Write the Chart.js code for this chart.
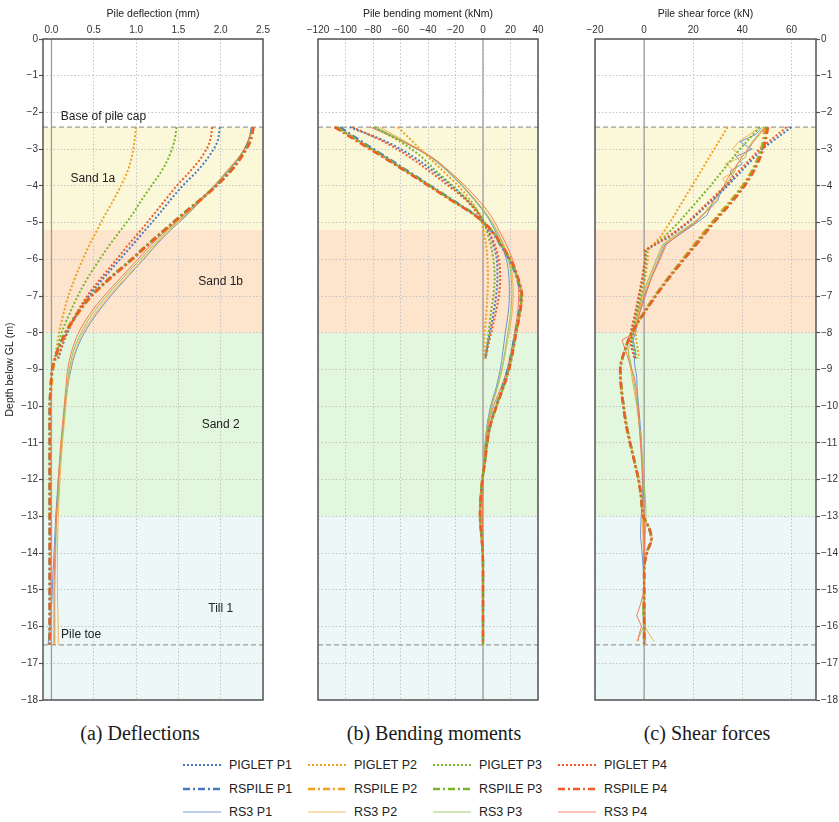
<!DOCTYPE html>
<html>
<head>
<meta charset="utf-8">
<script src="https://cdn.jsdelivr.net/npm/chart.js@4.4.0/dist/chart.umd.min.js"></script>
<style>
    body { margin: 0; background: #fff; }
    #page { position: relative; width: 839px; height: 822px; font-family: "Liberation Sans", Arial, sans-serif; color: #222; }
    #page canvas { position: absolute; top: 0; }
    .cap { position: absolute; top: 721px; width: 280px; margin-left: -140px; text-align: center; font-family: "Liberation Serif", "Times New Roman", serif; font-size: 20px; line-height: 24px; color: #1a1a1a; }
    .leg { position: absolute; height: 16px; font-size: 12.5px; line-height: 16px; white-space: nowrap; }
    .leg svg { position: absolute; left: 0; top: 3px; }
    .leg span { position: absolute; left: 46px; top: 0; }
</style>
</head>
<body>
<div id="page">
    <canvas id="panelA" width="275" height="712" style="left:0px"></canvas>
    <canvas id="panelB" width="270" height="712" style="left:280px"></canvas>
    <canvas id="panelC" width="279" height="712" style="left:560px"></canvas>
    <div class="cap" style="left:140px">(a) Deflections</div>
    <div class="cap" style="left:434px">(b) Bending moments</div>
    <div class="cap" style="left:707px">(c) Shear forces</div>
    <div id="legend"></div>
</div>
<script>
// DADOS
const models = ["PIGLET", "RSPILE", "RS3"];
const piles = ["P1", "P2", "P3", "P4"];

// camadas do solo (profundidade em m)
const layerNames = ["Sand 1a", "Sand 1b", "Sand 2", "Till 1"];
const layerTop = [-2.4, -5.2, -8, -13];
const layerBase = [-5.2, -8, -13, -18];
const pileCapLevel = -2.4;
const pileToeLevel = -16.5;

// textos do painel (a)
const noteText = ["Base of pile cap", "Sand 1a", "Sand 1b", "Sand 2", "Till 1", "Pile toe"];
const noteX = [0.615, 0.49, 2.0, 2.0, 2.0, 0.35];
const noteDepth = [-2.11, -3.81, -6.6, -10.5, -15.5, -16.23];

// eixos
const depthTicks = [0, -1, -2, -3, -4, -5, -6, -7, -8, -9, -10, -11, -12, -13, -14, -15, -16, -17, -18];
const deflTicks = [0, 0.5, 1, 1.5, 2, 2.5];
const momentTicks = [-120, -100, -80, -60, -40, -20, 0, 20, 40];
const shearTicks = [-20, 0, 20, 40, 60];

// profundidades das séries
const depthPiglet = [-2.4, -2.8, -3.2, -3.6, -4, -4.4, -4.8, -5.2, -5.6, -6, -6.5, -7, -7.5, -8, -8.4, -8.7];
const depthRs = [-2.4, -2.8, -3.2, -3.6, -4, -4.4, -4.8, -5.2, -5.6, -6, -6.5, -7, -7.5, -8, -8.5, -9, -9.5, -10, -10.5, -11, -11.5, -12, -12.5, -13, -13.5, -14, -14.5, -15, -15.5, -16, -16.5];
const depthPigletShear = [-2.4, -3, -4, -5, -5.4, -5.75, -6, -6.5, -7, -7.5, -8, -8.3, -8.7];
const depthRspileShear = [-2.4, -2.9, -3.5, -4, -4.5, -5, -5.5, -6, -6.5, -7, -7.5, -8, -8.5, -9, -9.5, -10, -10.5, -11, -11.5, -12, -12.5, -13, -13.3, -13.6, -14, -14.5, -15, -15.5, -16, -16.5];
const depthRs3Shear = [-2.4, -2.6, -2.8, -3.0, -3.2, -3.4, -3.6, -3.8, -4.0, -4.2, -4.4, -4.6, -4.8, -5.0, -5.3, -5.6, -6, -6.5, -7, -7.5, -8, -8.2, -8.5, -8.8, -9.2, -9.6, -10, -10.5, -11, -11.5, -12, -12.5, -13, -13.5, -14, -14.5, -15, -15.4, -15.7, -16, -16.2, -16.4];

// (a) deflexão (mm)
const deflPigletP1 = [1.99, 1.96, 1.86, 1.72, 1.55, 1.40, 1.26, 1.11, 0.96, 0.81, 0.62, 0.44, 0.30, 0.19, 0.12, 0.08];
const deflPigletP2 = [1.00, 0.98, 0.95, 0.90, 0.82, 0.73, 0.63, 0.54, 0.45, 0.37, 0.28, 0.20, 0.14, 0.09, 0.06, 0.04];
const deflPigletP3 = [1.48, 1.45, 1.39, 1.30, 1.18, 1.06, 0.95, 0.82, 0.69, 0.57, 0.43, 0.31, 0.21, 0.12, 0.08, 0.06];
const deflPigletP4 = [1.90, 1.87, 1.78, 1.64, 1.48, 1.34, 1.20, 1.06, 0.91, 0.77, 0.59, 0.42, 0.29, 0.18, 0.12, 0.08];
const deflRspileP1 = [2.37, 2.33, 2.24, 2.11, 1.94, 1.75, 1.54, 1.34, 1.14, 0.95, 0.70, 0.47, 0.30, 0.17, 0.07, 0.01, -0.01, -0.02, -0.02, -0.02, -0.02, -0.02, -0.02, -0.02, -0.02, -0.02, -0.02, -0.02, -0.02, -0.02, -0.02];
const deflRspileP2 = [2.38, 2.34, 2.25, 2.12, 1.95, 1.76, 1.55, 1.35, 1.15, 0.96, 0.71, 0.48, 0.31, 0.18, 0.08, 0.02, 0.00, -0.01, -0.01, -0.01, -0.01, -0.01, -0.01, -0.01, -0.01, -0.01, -0.01, -0.01, -0.01, -0.01, -0.01];
const deflRspileP3 = [2.38, 2.34, 2.24, 2.11, 1.94, 1.74, 1.53, 1.33, 1.13, 0.94, 0.69, 0.46, 0.29, 0.16, 0.07, 0.01, -0.01, -0.02, -0.02, -0.02, -0.02, -0.02, -0.02, -0.02, -0.02, -0.02, -0.02, -0.02, -0.02, -0.02, -0.02];
const deflRspileP4 = [2.39, 2.35, 2.25, 2.12, 1.95, 1.75, 1.54, 1.34, 1.14, 0.95, 0.70, 0.47, 0.30, 0.17, 0.07, 0.01, -0.01, -0.02, -0.02, -0.02, -0.02, -0.02, -0.02, -0.02, -0.02, -0.02, -0.02, -0.02, -0.02, -0.02, -0.02];
const deflRs3P1 = [2.37, 2.32, 2.23, 2.09, 1.94, 1.77, 1.60, 1.41, 1.24, 1.09, 0.89, 0.70, 0.53, 0.39, 0.29, 0.23, 0.19, 0.16, 0.14, 0.12, 0.10, 0.08, 0.065, 0.05, 0.04, 0.03, 0.02, 0.01, 0.0, -0.02, -0.04];
const deflRs3P2 = [2.37, 2.32, 2.22, 2.08, 1.93, 1.76, 1.59, 1.40, 1.23, 1.08, 0.88, 0.68, 0.51, 0.37, 0.28, 0.22, 0.19, 0.17, 0.15, 0.13, 0.115, 0.10, 0.09, 0.08, 0.075, 0.07, 0.07, 0.07, 0.075, 0.08, 0.08];
const deflRs3P3 = [2.38, 2.33, 2.23, 2.08, 1.93, 1.75, 1.58, 1.38, 1.21, 1.05, 0.85, 0.65, 0.48, 0.35, 0.26, 0.21, 0.18, 0.16, 0.14, 0.12, 0.10, 0.09, 0.08, 0.06, 0.055, 0.05, 0.045, 0.04, 0.04, 0.04, 0.04];
const deflRs3P4 = [2.38, 2.32, 2.22, 2.07, 1.92, 1.74, 1.56, 1.36, 1.18, 1.02, 0.82, 0.62, 0.45, 0.32, 0.24, 0.19, 0.17, 0.15, 0.13, 0.11, 0.095, 0.08, 0.07, 0.06, 0.05, 0.04, 0.035, 0.03, 0.03, 0.03, 0.03];

// (b) momento fletor (kNm)
const momentPigletP1 = [-97, -70, -51, -36, -23, -11, -2.5, 3.5, 7.5, 10, 10.5, 9.5, 7.5, 5, 3, 1.8];
const momentPigletP2 = [-62, -51, -40, -29, -18, -9, -2.4, 0.2, 2.2, 3.2, 3.6, 3.2, 2.4, 1.2, 0.7, 0.5];
const momentPigletP3 = [-79, -60, -45, -34, -22, -11, -1.7, 2.4, 5.6, 7.5, 8.5, 7.5, 5.6, 4.1, 2.4, 1.2];
const momentPigletP4 = [-95, -72, -54, -39, -25, -12, -3, 3.5, 8.5, 11.5, 12.5, 11.5, 9, 6, 3.5, 2];
const momentRspileP1 = [-104, -88, -71, -54.5, -38, -21.5, -5.5, 5.5, 12.5, 19, 24.5, 27.5, 26, 23.5, 21, 18, 14, 9.4, 5.3, 2.9, 1.4, -0.5, -1.6, -2.1, -1.2, -0.2, 0, 0, 0, 0, 0];
const momentRspileP2 = [-107, -90, -73, -56, -39, -22.5, -6, 6, 13.2, 19.8, 25.2, 28.2, 26.6, 24.1, 21.7, 18.8, 14.6, 9.8, 5.5, 3, 1.5, -0.5, -1.7, -2.2, -1.2, -0.2, 0, 0, 0, 0, 0];
const momentRspileP3 = [-106, -89.5, -72, -55.5, -38.5, -22, -5.5, 6, 13, 19.5, 25, 28, 26.5, 24, 21.5, 18.5, 14.5, 9.6, 5.4, 3, 1.4, -0.5, -1.7, -2.1, -1.2, -0.2, 0, 0, 0, 0, 0];
const momentRspileP4 = [-108, -91, -73.5, -56.5, -39.5, -23, -6, 6, 13.3, 20, 25.5, 28.4, 26.7, 24.2, 21.8, 19, 14.8, 9.9, 5.6, 3.1, 1.5, -0.5, -1.7, -2.2, -1.2, -0.2, 0, 0, 0, 0, 0];
const momentRs3P1 = [-80, -58, -39, -26, -15.3, -6, 2.4, 8.5, 13.3, 17, 18.9, 19.2, 18.2, 16.2, 14.5, 12.5, 9.5, 5.5, 3, 1.5, 0.5, 0, -0.3, -0.5, -0.3, 0, 0, 0, 0, 0, 0];
const momentRs3P2 = [-75, -56, -38, -25, -14.5, -5, 3.5, 10, 15, 19, 21.5, 22, 21, 19, 16.5, 14, 10.5, 6.5, 3.5, 1.8, 0.7, 0.1, -0.3, -0.5, -0.3, 0, 0, 0, 0, 0, 0];
const momentRs3P3 = [-78, -57, -38.5, -25.5, -15, -5.5, 3, 9.5, 14.5, 18.5, 20.5, 21, 20, 18, 16, 13.5, 10.2, 6.2, 3.3, 1.7, 0.6, 0, -0.3, -0.5, -0.3, 0, 0, 0, 0, 0, 0];
const momentRs3P4 = [-82, -58, -38, -24.5, -13, -3, 5.5, 11.5, 17, 21.5, 25, 26, 25, 23, 20.5, 17.5, 13, 7.5, 4, 2, 0.8, 0.1, -0.3, -0.5, -0.3, 0, 0, 0, 0, 0, 0];

// (c) esforço cortante (kN)
const shearPigletP1 = [60, 48, 34, 18, 10, 0.5, 0.6, -0.5, -2, -3.5, -5, -5, -3.5];
const shearPigletP2 = [34, 28.5, 19.5, 10.5, 6.5, 1.5, 1.5, 0.5, -1, -2.5, -3.5, -3, -2];
const shearPigletP3 = [47, 39, 27, 14, 8, 1, 0.8, 0, -1.5, -3, -4.5, -4.5, -3];
const shearPigletP4 = [58, 47, 33, 17.5, 9.5, 0.3, 0.3, -0.8, -2.2, -3.8, -5.5, -5.5, -4];
const shearRspileP1 = [49.5, 48.3, 44.8, 40.2, 34.2, 27.8, 21.8, 15.8, 9.9, 4.4, -0.5, -5, -7.9, -9.6, -9.2, -8.3, -7.2, -5.6, -3.9, -2.2, -1.1, -0.3, 1.8, 2.9, 1, 0, 0, 0, 0, 0];
const shearRspileP2 = [49, 48, 44.5, 40, 34, 27.5, 21.5, 15.6, 9.8, 4.3, -0.6, -5.1, -8, -9.6, -9.2, -8.3, -7.2, -5.6, -3.9, -2.2, -1.1, -0.3, 1.9, 3, 1, 0, 0, 0, 0, 0];
const shearRspileP3 = [50, 48.5, 45, 40.5, 34.5, 28, 22, 16, 10, 4.5, -0.5, -5, -8, -9.7, -9.3, -8.4, -7.3, -5.7, -4, -2.3, -1.2, -0.3, 1.8, 2.9, 1, 0, 0, 0, 0, 0];
const shearRspileP4 = [50.5, 49, 45.5, 41, 35, 28.5, 22.5, 16.3, 10.3, 4.8, -0.3, -5, -8, -9.8, -9.4, -8.5, -7.4, -5.8, -4, -2.3, -1.2, -0.3, 2, 3.1, 1.1, 0, 0, 0, 0, 0];
const shearRs3P1 = [48, 45.5, 39, 44, 37.5, 40, 35, 36.5, 33.5, 31, 30, 27, 25.5, 21.5, 15, 8.5, 6, 3, 0, -2, -3.5, -4.5, -3.5, -4, -3, -2.8, -2.2, -1.6, -1, -0.8, -0.5, -0.8, -1.2, -1.5, -0.8, -0.3, 0, 0.3, 0, 0.5, 0.2, 0.3];
const shearRs3P2 = [47, 43, 38.5, 36, 40, 33, 37, 32, 34, 30, 29.5, 26, 24, 20.5, 14, 8, 5.5, 2.5, -0.5, -2.5, -4, -5.5, -6.5, -6, -5, -4, -3, -2, -1.2, -0.6, -0.2, -0.3, -0.5, -0.5, -0.3, 0, 0.2, 0, 0.5, 0.3, 2, 4];
const shearRs3P3 = [49, 46.5, 44, 42, 41.5, 38, 37, 35, 33, 30.5, 28.5, 26.5, 24, 20, 13.5, 7.5, 5, 2, -1, -3, -5, -7, -6.5, -5.5, -4.5, -3.5, -2.8, -2, -1.3, -0.8, -0.2, 0.5, 0.8, 0.5, 0.2, 0, 0, -0.5, -0.5, 0, -1.5, -3];
const shearRs3P4 = [49, 47, 44.5, 42.5, 40, 38, 36, 34, 32.5, 30.5, 28, 27, 23.5, 21, 14.5, 9, 6.5, 3, 0.5, -2, -4, -9, -7.5, -6, -4, -3, -2.5, -2, -1.5, -1, -0.5, -0.2, 0, 0.2, 0, 0, 0, -1.5, -3, -1, -2, -2.5];

// ESTILOS
const pileColors = ["#4a78c8", "#f0a021", "#7ab52b", "#f05a28"];
const rs3Colors = ["#6f93d3", "#f2b44d", "#97c65a", "#f37a58"];
const layerFill = ["#fbf8da", "#fde4cc", "#e3f7de", "#ecf8f8"];
const lineStyles = {
    PIGLET: { width: 2, dash: [2, 2] },
    RSPILE: { width: 2.4, dash: [7, 3, 2, 3] },
    RS3: { width: 1, dash: [] },
};
const fontFamily = "'Liberation Sans', Arial, sans-serif";
Chart.defaults.font.family = fontFamily;
Chart.defaults.color = "#333";

const minus = (v) => (v < 0 ? "\u2212" + Math.abs(v) : String(v));

// CAMADAS, LINHAS DE REFERÊNCIA E MOLDURA
const soilPlugin = {
    id: "soil",
    beforeDraw(chart) {
        const { ctx, chartArea: a, scales: { y } } = chart;
        ctx.save();
        layerTop.forEach((top, i) => {
            const y0 = y.getPixelForValue(top);
            const y1 = y.getPixelForValue(layerBase[i]);
            ctx.fillStyle = layerFill[i];
            ctx.fillRect(a.left, y0, a.right - a.left, y1 - y0);
        });
        ctx.restore();
    },
    beforeDatasetsDraw(chart) {
        const { ctx, chartArea: a, scales: { x, y } } = chart;
        ctx.save();
        ctx.strokeStyle = "#9c9c9c";
        ctx.lineWidth = 1.3;
        const x0 = x.getPixelForValue(0);
        ctx.beginPath();
        ctx.moveTo(x0, a.top);
        ctx.lineTo(x0, a.bottom);
        ctx.stroke();
        ctx.setLineDash([5, 3]);
        [pileCapLevel, pileToeLevel].forEach((d) => {
            const yy = y.getPixelForValue(d);
            ctx.beginPath();
            ctx.moveTo(a.left, yy);
            ctx.lineTo(a.right, yy);
            ctx.stroke();
        });
        ctx.restore();
    },
    afterDraw(chart, args, opts) {
        const { ctx, chartArea: a, scales: { x, y } } = chart;
        ctx.save();
        if (opts.notes) {
            ctx.font = "12px " + fontFamily;
            ctx.fillStyle = "#222";
            ctx.textAlign = "center";
            ctx.textBaseline = "middle";
            noteText.forEach((t, i) => {
                ctx.fillText(t, x.getPixelForValue(noteX[i]), y.getPixelForValue(noteDepth[i]));
            });
        }
        ctx.strokeStyle = "#555";
        ctx.lineWidth = 1.5;
        ctx.strokeRect(a.left, a.top, a.right - a.left, a.bottom - a.top);
        ctx.restore();
    },
};

// o Chart.js desenha o primeiro dataset por cima: P4 entra primeiro
function buildSets(groups) {
    const sets = [];
    groups.forEach(([model, depths, values, smooth]) => {
        [3, 2, 1, 0].forEach((k) => {
            sets.push({
                label: model + " " + piles[k],
                data: values[k].map((v, i) => ({ x: v, y: depths[i] })),
                borderColor: model === "RS3" ? rs3Colors[k] : pileColors[k],
                borderWidth: lineStyles[model].width,
                borderDash: lineStyles[model].dash,
                cubicInterpolationMode: smooth ? "monotone" : "default",
                tension: 0,
                fill: false,
                pointRadius: 0,
            });
        });
    });
    return sets;
}

function makePanel(id, cfg) {
    const tickFont = { size: 10, family: fontFamily };
    const titleFont = { size: 10.5, family: fontFamily };
    new Chart(document.getElementById(id), {
        type: "line",
        data: { datasets: cfg.datasets },
        options: {
            indexAxis: "y",
            responsive: false,
            animation: false,
            events: [],
            layout: { padding: cfg.padding },
            plugins: {
                legend: { display: false },
                tooltip: { enabled: false },
                soil: { notes: cfg.notes },
            },
            scales: {
                x: {
                    type: "linear",
                    position: "top",
                    min: cfg.xMin,
                    max: cfg.xMax,
                    afterBuildTicks: (s) => { s.ticks = cfg.xTicks.map((v) => ({ value: v })); },
                    afterFit: (s) => { s.height = 39; },
                    ticks: { font: tickFont, color: "#333", padding: 3, maxRotation: 0, callback: cfg.xFormat },
                    grid: { color: "#c4c4c4", lineWidth: 1, drawTicks: false },
                    border: { display: false, dash: [1.5, 2] },
                    title: { display: true, text: cfg.xTitle, font: titleFont, color: "#222", padding: { top: 8, bottom: 2 } },
                },
                y: {
                    type: "linear",
                    position: cfg.yPos,
                    min: -18,
                    max: 0,
                    afterBuildTicks: (s) => { s.ticks = depthTicks.map((v) => ({ value: v })); },
                    afterFit: (s) => { s.width = cfg.yWidth; },
                    ticks: { display: cfg.yWidth > 0, font: tickFont, color: "#333", padding: 1, callback: minus },
                    grid: { color: "#c4c4c4", lineWidth: 1, drawTicks: cfg.yWidth > 0, tickLength: 4, tickColor: "#555", tickWidth: 1.2 },
                    border: { display: false, dash: [1.5, 2] },
                    title: { display: cfg.yTitle !== "", text: cfg.yTitle, font: titleFont, color: "#222", padding: { top: 4, bottom: 0 } },
                },
            },
        },
        plugins: [soilPlugin],
    });
}

makePanel("panelA", {
    datasets: buildSets([
        ["RSPILE", depthRs, [deflRspileP1, deflRspileP2, deflRspileP3, deflRspileP4], true],
        ["PIGLET", depthPiglet, [deflPigletP1, deflPigletP2, deflPigletP3, deflPigletP4], true],
        ["RS3", depthRs, [deflRs3P1, deflRs3P2, deflRs3P3, deflRs3P4], true],
    ]),
    xMin: -0.1, xMax: 2.5, xTicks: deflTicks, xFormat: (v) => v.toFixed(1),
    xTitle: "Pile deflection (mm)",
    yPos: "left", yWidth: 43, yTitle: "Depth below GL (m)",
    padding: { left: 0, right: 12, top: 0, bottom: 12 },
    notes: true,
});

makePanel("panelB", {
    datasets: buildSets([
        ["RSPILE", depthRs, [momentRspileP1, momentRspileP2, momentRspileP3, momentRspileP4], true],
        ["PIGLET", depthPiglet, [momentPigletP1, momentPigletP2, momentPigletP3, momentPigletP4], true],
        ["RS3", depthRs, [momentRs3P1, momentRs3P2, momentRs3P3, momentRs3P4], true],
    ]),
    xMin: -120, xMax: 40, xTicks: momentTicks, xFormat: minus,
    xTitle: "Pile bending moment (kNm)",
    yPos: "left", yWidth: 0, yTitle: "",
    padding: { left: 38, right: 12, top: 0, bottom: 12 },
    notes: false,
});

makePanel("panelC", {
    datasets: buildSets([
        ["RSPILE", depthRspileShear, [shearRspileP1, shearRspileP2, shearRspileP3, shearRspileP4], true],
        ["PIGLET", depthPigletShear, [shearPigletP1, shearPigletP2, shearPigletP3, shearPigletP4], false],
        ["RS3", depthRs3Shear, [shearRs3P1, shearRs3P2, shearRs3P3, shearRs3P4], false],
    ]),
    xMin: -20, xMax: 70, xTicks: shearTicks, xFormat: minus,
    xTitle: "Pile shear force (kN)",
    yPos: "right", yWidth: 23, yTitle: "",
    padding: { left: 35, right: 0, top: 0, bottom: 12 },
    notes: false,
});

// LEGENDA
const legendColors = ["#4a78c8", "#f0a021", "#7ab52b", "#f05a28"];
const legendRs3Colors = ["#7d9fd9", "#f3bd62", "#a3cd6c", "#f4896a"];
const legend = document.getElementById("legend");
models.forEach((m, r) => {
    piles.forEach((p, c) => {
        const item = document.createElement("div");
        item.className = "leg";
        item.style.left = 183 + c * 125 + "px";
        item.style.top = 757 + r * 23.7 + "px";
        const color = m === "RS3" ? legendRs3Colors[c] : legendColors[c];
        const st = lineStyles[m];
        item.innerHTML =
            '<svg width="40" height="10"><line x1="0" y1="5" x2="38" y2="5" stroke="' + color +
            '" stroke-width="' + st.width + '" stroke-dasharray="' + st.dash.join(" ") + '"/></svg>' +
            "<span>" + m + " " + p + "</span>";
        legend.appendChild(item);
    });
});
</script>
</body>
</html>
